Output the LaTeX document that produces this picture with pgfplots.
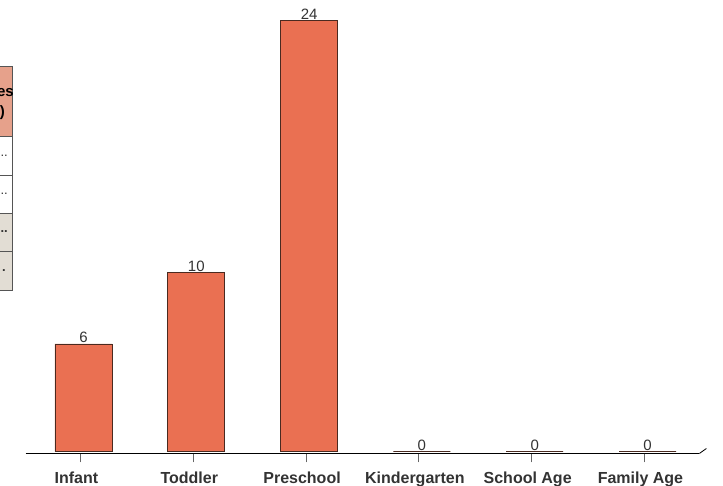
\documentclass[border=0pt]{standalone}
\usepackage{pgfplots}
\pgfplotsset{compat=1.18}
\usepackage{fontspec}
\setmainfont{Liberation Sans}
\definecolor{barfill}{HTML}{EA7052}
\definecolor{baredge}{HTML}{4A2A20}
\definecolor{txt}{HTML}{333333}
\definecolor{hdr}{HTML}{E6A18B}
\definecolor{beige}{HTML}{E2DDD4}
\definecolor{tline}{HTML}{555555}
\begin{document}
\begin{tikzpicture}[x=1pt,y=1pt]
\path[use as bounding box] (0,0) rectangle (723,486);
% cut-off table at the left edge
\begin{scope}
\clip (0,0) rectangle (723,486);
\filldraw[fill=hdr,draw=tline,line width=0.8pt] (-60,350) rectangle (12.5,420);
\filldraw[fill=white,draw=tline,line width=0.8pt] (-60,311) rectangle (12.5,350);
\filldraw[fill=white,draw=tline,line width=0.8pt] (-60,273) rectangle (12.5,311);
\filldraw[fill=beige,draw=tline,line width=0.8pt] (-60,235) rectangle (12.5,273);
\filldraw[fill=beige,draw=tline,line width=0.8pt] (-60,196) rectangle (12.5,235);
\node[anchor=east,inner sep=0pt,font=\bfseries\fontsize{15}{18}\selectfont,text=black] at (14,393) {es};
\node[anchor=east,inner sep=0pt,font=\bfseries\fontsize{15}{18}\selectfont,text=black] at (5,373) {)};
\node[anchor=east,inner sep=0pt,font=\fontsize{13}{16}\selectfont,text=txt] at (8,330) {..};
\node[anchor=east,inner sep=0pt,font=\fontsize{13}{16}\selectfont,text=txt] at (8,292) {..};
\node[anchor=east,inner sep=0pt,font=\bfseries\fontsize{13}{16}\selectfont,text=txt] at (8,254) {..};
\node[anchor=east,inner sep=0pt,font=\bfseries\fontsize{13}{16}\selectfont,text=txt] at (6,215) {.};
\end{scope}
\begin{axis}[
  at={(83.5pt,34.3pt)}, anchor=origin,
  x=112.8pt, y=17.95pt,
  xmin=-0.513, xmax=5.46, ymin=-0.1, ymax=25,
  scale only axis,
  axis x line*=bottom,
  hide y axis,
  x axis line style={-,black,line width=0.8pt},
  xtick={-0.027,0.973,1.973,2.973,3.973,4.973},
  xticklabels={Infant,Toddler,Preschool,Kindergarten,School Age,Family Age},
  tick align=outside,
  major tick length=9pt,
  xtick style={draw=gray!80!black,line width=0.8pt},
  xticklabel style={font=\bfseries\fontsize{16}{19}\selectfont,text=txt,yshift=-6pt,xshift=-4pt},
  /pgf/number format/assume math mode=true,
  ybar, bar width=57pt,
  nodes near coords,
  nodes near coords style={font=\fontsize{15}{18}\selectfont,text=txt,anchor=south,inner sep=0.5pt},
  clip=false,
]
\addplot[fill=barfill,draw=baredge,line width=0.8pt] coordinates {(0,6) (1,10) (2,24) (3,0) (4,0) (5,0)};
\draw[black,line width=0.8pt] (axis cs:5.46,-0.1) -- ++(7pt,5pt);
\end{axis}
\end{tikzpicture}
\end{document}
